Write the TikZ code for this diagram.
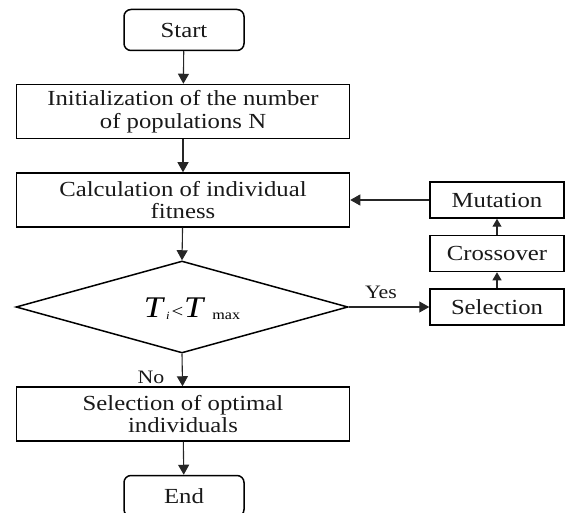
\documentclass[tikz,border=0pt]{standalone}
\usepackage{fontspec}
\setmainfont[FakeStretch=1.15]{Liberation Serif}
\usetikzlibrary{arrows.meta,shapes.geometric}
\begin{document}
\begin{tikzpicture}[x=1pt,y=-1pt,
  box/.style={draw=black,line width=1.5pt,inner sep=0pt,align=center,text=black!90,
    font=\fontsize{21.5}{22.5}\selectfont},
  mainbox/.style={box,minimum width=333pt,minimum height=54pt},
  termbox/.style={box,rounded corners=7pt,minimum width=120pt,minimum height=41pt},
  sidebox/.style={box,minimum width=134pt,minimum height=36pt},
  decbox/.style={draw=black,line width=1.5pt,diamond,inner sep=0pt,minimum width=332pt,minimum height=92pt},
  arr/.style={draw=black!85,line width=1.1pt,-{Triangle[length=10pt,width=11pt]}},
  sarr/.style={draw=black!85,line width=1.1pt,-{Triangle[length=8pt,width=9pt]}},
  lbl/.style={text=black!90,font=\fontsize{19}{20}\selectfont}]
\useasboundingbox (0,0) rectangle (565,513);
\node[termbox] (start) at (184,30) {Start};
\node[mainbox] (init) at (183,111.5) {Initialization of the number\\of populations N};
\node[mainbox] (calc) at (183,200) {Calculation of individual\\fitness};
\node[decbox] (dec) at (182,307) {};
\node at (192,309) {\fontsize{30}{30}\selectfont\itshape T\hspace{3pt}\raisebox{-2pt}{\fontsize{11}{11}\selectfont i}\hspace{2pt}{\upshape\fontsize{18}{18}\selectfont <}\hspace{1pt}T\hspace{9pt}\raisebox{-2pt}{\upshape\fontsize{14}{14}\selectfont max}};
\node[sidebox] (sel) at (497,307) {Selection};
\node[sidebox] (cross) at (497,253.5) {Crossover};
\node[sidebox] (mut) at (497,200) {Mutation};
\node[mainbox] (opt) at (183,414) {Selection of optimal\\individuals};
\node[termbox] (end) at (184,496) {End};
\node[lbl] (yes) at (381,292) {Yes};
\node[lbl] (no) at (151,377) {No};
\draw[arr] (start) -- (init);
\draw[arr] (init) -- (calc);
\draw[arr] (calc) -- (dec.north);
\draw[arr] (dec.east) -- (sel);
\draw[sarr] (sel) -- (cross);
\draw[sarr] (cross) -- (mut);
\draw[arr] (mut) -- (calc);
\draw[arr] (dec.south) -- (opt);
\draw[arr] (opt) -- (end);
\end{tikzpicture}
\end{document}
